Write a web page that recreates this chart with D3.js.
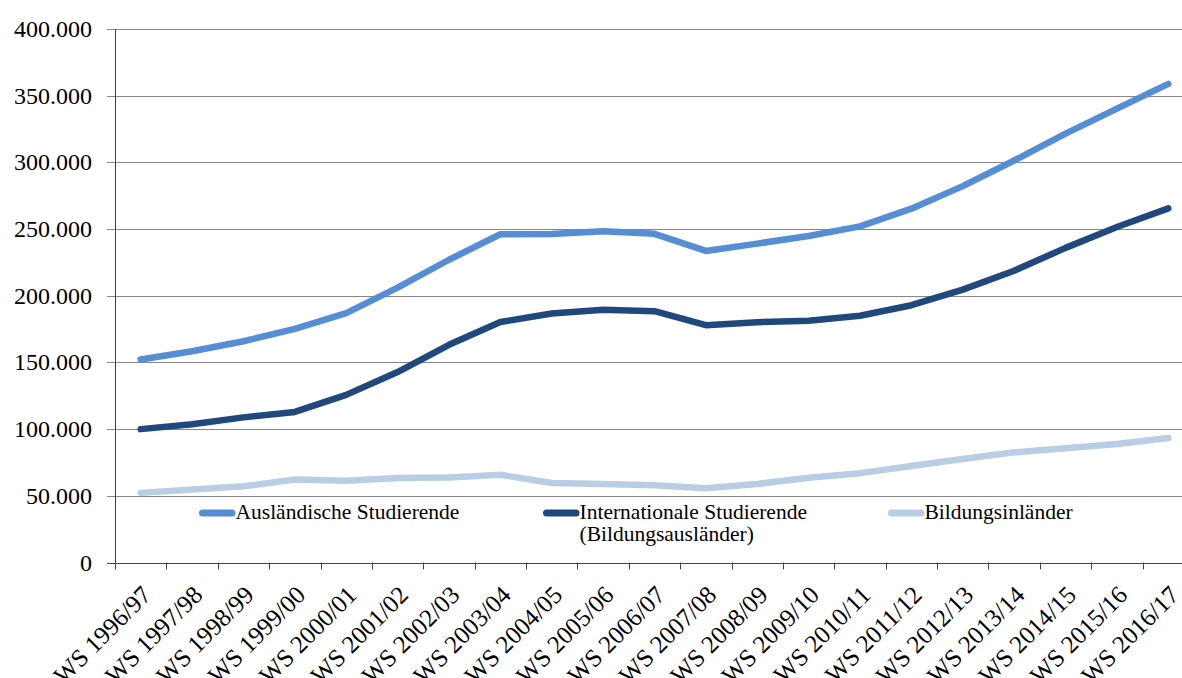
<!DOCTYPE html>
<html>
<head>
<meta charset="utf-8">
<script src="https://cdn.jsdelivr.net/npm/d3@7"></script>
</head>
<body style="margin:0">
<script>
// data
const semesters = ["WS 1996/97", "WS 1997/98", "WS 1998/99", "WS 1999/00", "WS 2000/01", "WS 2001/02",
    "WS 2002/03", "WS 2003/04", "WS 2004/05", "WS 2005/06", "WS 2006/07", "WS 2007/08", "WS 2008/09",
    "WS 2009/10", "WS 2010/11", "WS 2011/12", "WS 2012/13", "WS 2013/14", "WS 2014/15", "WS 2015/16", "WS 2016/17"];
const auslaendische = [152200, 158400, 165900, 175100, 187000, 206100, 227000, 246100, 246300, 248400, 246400,
    233600, 239100, 244800, 252000, 265300, 282200, 301400, 321600, 340300, 358900];
const international = [100000, 103700, 108800, 112900, 125700, 142800, 163200, 180300, 186700, 189500, 188400,
    177900, 180200, 181200, 185000, 192900, 204600, 218800, 235900, 251500, 265500];
const inlaender = [52200, 54700, 57100, 62200, 61300, 63300, 63800, 65800, 59600, 58900, 58000,
    55700, 58900, 63600, 67000, 72400, 77600, 82600, 85700, 88800, 93400];
const seriesNames = ["Ausländische Studierende", "Internationale Studierende|(Bildungsausländer)", "Bildungsinländer"];
const seriesColors = ["#558ed5", "#1f497d", "#b9cde5"];
const yTicks = [0, 50000, 100000, 150000, 200000, 250000, 300000, 350000, 400000];

const w = 1182;
const h = 678;
const plotLeft = 115, plotTop = 29, plotBottom = 562.5, plotRight = 1194;
const fontName = "'Liberation Serif', monospace";

const svg = d3.select("body").append("svg")
    .attr("width", w)
    .attr("height", h)
    .style("display", "block");

let x = d3.scaleBand().domain(semesters).range([plotLeft, plotRight]);
let y = d3.scaleLinear().domain([0, 400000]).range([plotBottom, plotTop]);

// gridlines
svg.selectAll(".grid")
    .data(yTicks)
    .enter()
    .append("line")
    .attr("x1", plotLeft - 8)
    .attr("x2", w)
    .attr("y1", d => Math.round(y(d)) + 0.5)
    .attr("y2", d => Math.round(y(d)) + 0.5)
    .attr("stroke", d => d === 0 ? "#444" : "#868686")
    .attr("stroke-width", 1);

// y labels
svg.selectAll(".ylab")
    .data(yTicks)
    .enter()
    .append("text")
    .attr("x", 92)
    .attr("y", d => y(d) + 8)
    .attr("text-anchor", "end")
    .attr("font-size", 24)
    .style("font-family", fontName)
    .text(d => d3.format(",")(d).replace(/,/g, "."));

// y axis line
svg.append("line")
    .attr("x1", plotLeft + 0.5).attr("x2", plotLeft + 0.5)
    .attr("y1", plotTop).attr("y2", plotBottom + 7)
    .attr("stroke", "#444");

// x ticks at band boundaries
svg.selectAll(".xtick")
    .data(semesters)
    .enter()
    .append("line")
    .attr("x1", d => Math.round(x(d) + x.bandwidth()) + 0.5)
    .attr("x2", d => Math.round(x(d) + x.bandwidth()) + 0.5)
    .attr("y1", plotBottom)
    .attr("y2", plotBottom + 7)
    .attr("stroke", "#444");

// x labels, rotated
svg.selectAll(".xlab")
    .data(semesters)
    .enter()
    .append("text")
    .attr("text-anchor", "end")
    .attr("font-size", 25)
    .style("font-family", fontName)
    .attr("transform", d => "translate(" + (x(d) + x.bandwidth() / 2 + 12) + "," + (plotBottom + 34) + ") rotate(-45)")
    .text(d => d);

// lines
const line = d3.line()
    .x((d, i) => x(semesters[i]) + x.bandwidth() / 2)
    .y(d => y(d));

[auslaendische, international, inlaender].forEach(function (vals, i) {
    svg.append("path")
        .attr("d", line(vals))
        .attr("fill", "none")
        .attr("stroke", seriesColors[i])
        .attr("stroke-width", 6.5)
        .attr("stroke-linecap", "round")
        .attr("stroke-linejoin", "round");
});

// legend
const legendX = [199, 543, 888];
seriesNames.forEach(function (name, i) {
    const g = svg.append("g").attr("transform", "translate(" + legendX[i] + ",513)");
    g.append("line")
        .attr("x1", 3.5).attr("x2", 33)
        .attr("y1", 0).attr("y2", 0)
        .attr("stroke", seriesColors[i])
        .attr("stroke-width", 7)
        .attr("stroke-linecap", "round");
    name.split("|").forEach(function (part, j) {
        g.append("text")
            .attr("x", 36.5)
            .attr("y", 6 + j * 22)
            .attr("font-size", 21.5)
            .style("font-family", fontName)
            .text(part);
    });
});
</script>
</body>
</html>
